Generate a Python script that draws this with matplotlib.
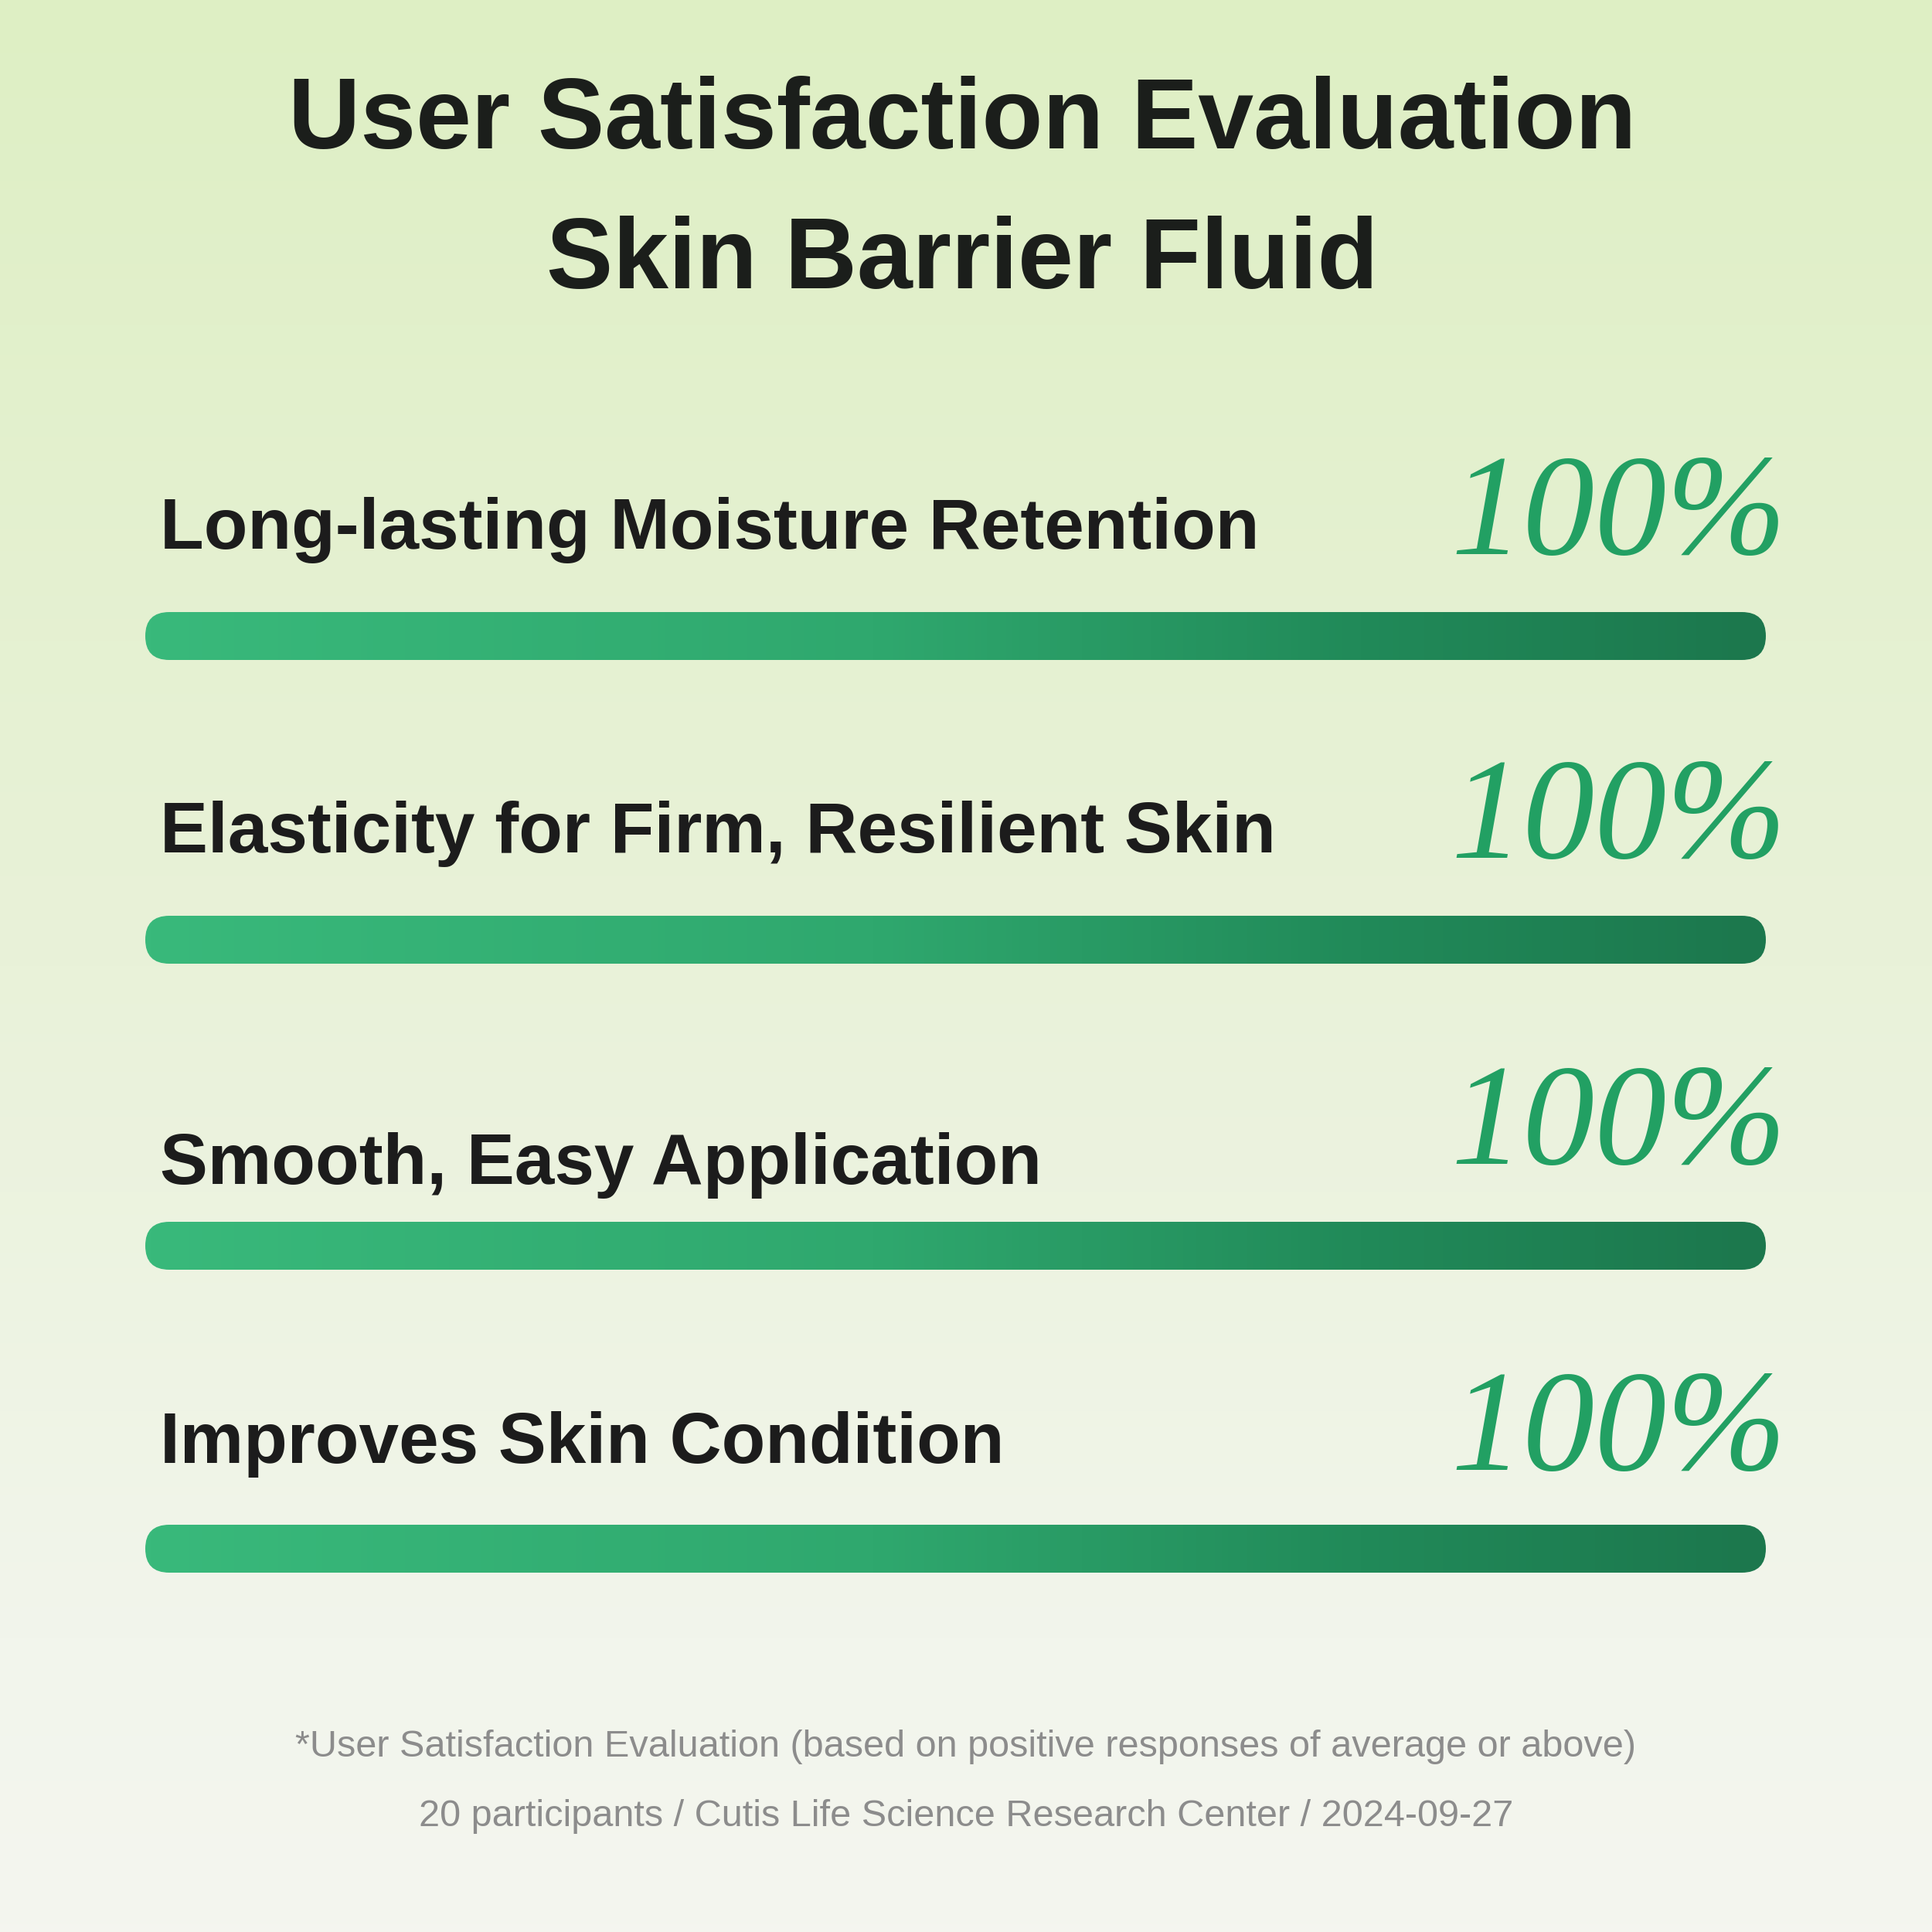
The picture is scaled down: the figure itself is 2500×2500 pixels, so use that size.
import numpy as np
import matplotlib
matplotlib.use("Agg")
import matplotlib.pyplot as plt
from matplotlib.colors import LinearSegmentedColormap
from matplotlib.patches import FancyBboxPatch
from matplotlib import font_manager

# --- data ---
title_lines = ["User Satisfaction Evaluation", "Skin Barrier Fluid"]
items = ["Long-lasting Moisture Retention",
         "Elasticity for Firm, Resilient Skin",
         "Smooth, Easy Application",
         "Improves Skin Condition"]
scores = [100, 100, 100, 100]
notes = ["*User Satisfaction Evaluation (based on positive responses of average or above)",
         "20 participants / Cutis Life Science Research Center / 2024-09-27"]

# --- layout (pixels, y counted from top) ---
W = H = 2500
bar_x0, bar_full, bar_h = 188, 2097, 62
bar_y = [823, 1216, 1612, 2004]
label_y = [710, 1103, 1532, 1893]
pct_y = [717, 1110, 1506, 1902]
pct_x = 2312
title_y = [192, 373]
note_y = [2273, 2363]

names = {f.name for f in font_manager.fontManager.ttflist}
sans = "Liberation Sans Narrow" if "Liberation Sans Narrow" in names else "Liberation Sans"
serif = "Liberation Serif"

fig = plt.figure(figsize=(25, 25), dpi=100)
ax = fig.add_axes([0, 0, 1, 1])
ax.set_xlim(0, W)
ax.set_ylim(H, 0)
ax.axis("off")

# background: soft vertical green gradient
bg_cmap = LinearSegmentedColormap.from_list(
    "bg", [(0.0, "#deefc4"), (0.5, "#e9f2d9"), (0.85, "#f2f5ec"), (1.0, "#f4f5ef")])
grad = np.linspace(0, 1, 256).reshape(-1, 1)
ax.imshow(grad, cmap=bg_cmap, extent=(0, W, H, 0), aspect="auto", zorder=0)

# bars with horizontal gradient, rounded ends
bar_cmap = LinearSegmentedColormap.from_list(
    "bar", [(0.0, "#39b97b"), (0.45, "#2fa86e"), (0.75, "#218a59"), (1.0, "#1c774d")])
hgrad = np.linspace(0, 1, 512).reshape(1, -1)
for y, v in zip(bar_y, scores):
    length = bar_full * v / 100
    patch = FancyBboxPatch((bar_x0, y - bar_h / 2), length, bar_h,
                           boxstyle=f"round,pad=0,rounding_size={bar_h / 2}",
                           facecolor="none", edgecolor="none")
    ax.add_patch(patch)
    im = ax.imshow(hgrad, cmap=bar_cmap, extent=(bar_x0, bar_x0 + length, y + bar_h / 2, y - bar_h / 2),
                   aspect="auto", zorder=2)
    im.set_clip_path(patch)

renderer = fig.canvas.get_renderer()


def fit(txt, width):
    bb = txt.get_window_extent(renderer=renderer)
    return txt.get_fontsize() * width / bb.width


# title
t_objs = []
for s, y in zip(title_lines, title_y):
    t_objs.append(ax.text(1245, y, s, ha="center", va="baseline", fontsize=100,
                          family=sans, weight="bold", color="#1b1e1b", zorder=3))
fs = fit(t_objs[0], 1746)
for t in t_objs:
    t.set_fontsize(fs)

# item labels and percentages
l_objs = []
for s, y in zip(items, label_y):
    l_objs.append(ax.text(207, y, s, ha="left", va="baseline", fontsize=70,
                          family=sans, weight="bold", color="#1c1c1c", zorder=3))
fs = fit(l_objs[0], 1422)
for t in l_objs:
    t.set_fontsize(fs)

for v, y in zip(scores, pct_y):
    ax.text(pct_x, y, f"{v}%", ha="right", va="baseline", fontsize=134,
            family=serif, style="italic", color="#22a063", zorder=3)

# footnote
n_objs = []
for s, y in zip(notes, note_y):
    n_objs.append(ax.text(1250, y, s, ha="center", va="baseline", fontsize=30,
                          family=sans, color="#8c8c8c", zorder=3))
fs = fit(n_objs[0], 1734)
for t in n_objs:
    t.set_fontsize(fs)

fig.savefig("out.png", dpi=100)
